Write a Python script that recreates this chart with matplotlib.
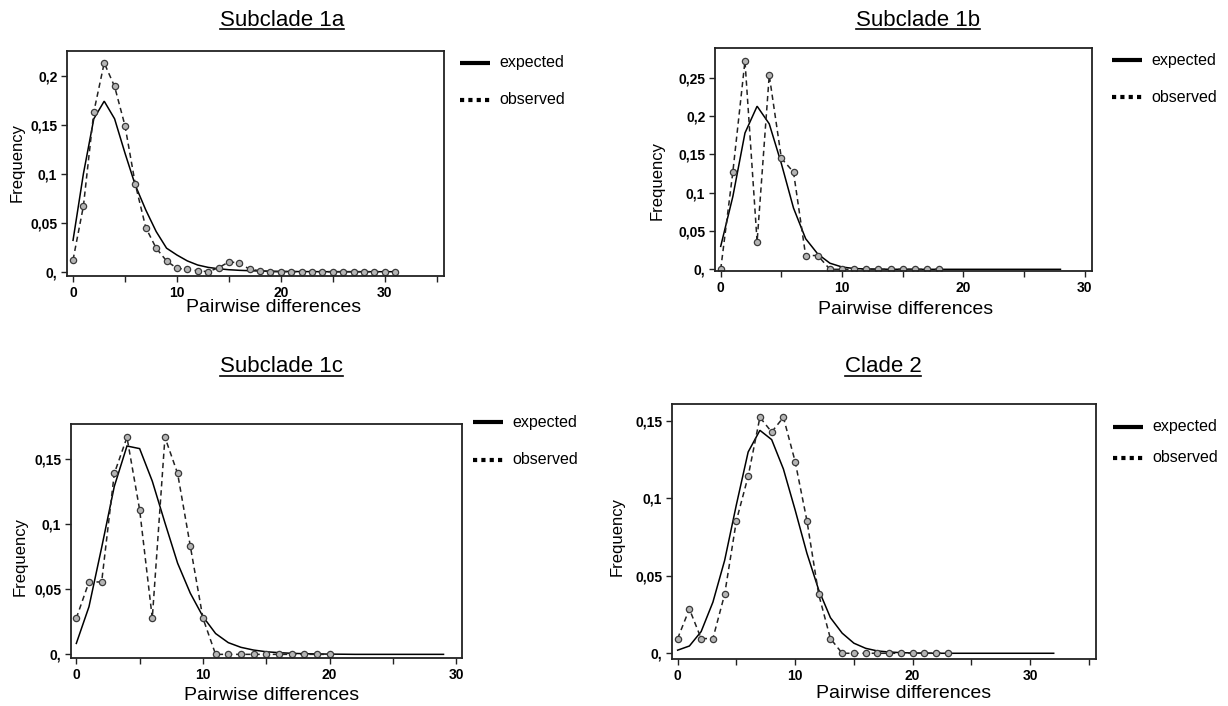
import matplotlib
matplotlib.use("Agg")
import matplotlib.pyplot as plt
from matplotlib.lines import Line2D

W, H = 1228, 706

titles = ["Subclade 1a", "Subclade 1b", "Subclade 1c", "Clade 2"]
x_label = "Pairwise differences"
y_label = "Frequency"
legend_labels = ["expected", "observed"]

# Subclade 1a
obs_1a = [0.012, 0.067, 0.163, 0.213, 0.189, 0.149, 0.089, 0.045, 0.024, 0.011,
          0.0034, 0.0024, 0.001, 0.0, 0.004, 0.010, 0.009, 0.0024, 0.001, 0.0,
          0.0, 0.0, 0.0, 0.0, 0.0, 0.0, 0.0, 0.0, 0.0, 0.0, 0.0, 0.0]
exp_1a = [0.032, 0.100, 0.156, 0.174, 0.156, 0.121, 0.088, 0.063, 0.041, 0.024,
          0.017, 0.011, 0.0068, 0.0044, 0.003, 0.002, 0.0014, 0.001, 0.0007, 0.0005,
          0.0003, 0.0002, 0.0001, 0.0001, 0.0, 0.0, 0.0, 0.0, 0.0, 0.0, 0.0, 0.0]
# Subclade 1b
obs_1b = [0.0, 0.127, 0.272, 0.036, 0.2535, 0.145, 0.127, 0.018, 0.018, 0.0,
          0.0, 0.0, 0.0, 0.0, 0.0, 0.0, 0.0, 0.0, 0.0]
exp_1b = [0.030, 0.095, 0.178, 0.213, 0.190, 0.138, 0.080, 0.040, 0.020, 0.008,
          0.003, 0.001, 0.0005, 0.0002, 0.0001, 0.0, 0.0, 0.0, 0.0, 0.0,
          0.0, 0.0, 0.0, 0.0, 0.0, 0.0, 0.0, 0.0, 0.0]
# Subclade 1c
obs_1c = [0.0278, 0.0556, 0.0556, 0.1389, 0.1667, 0.1111, 0.0278, 0.1667, 0.1389, 0.0833,
          0.0278, 0.0, 0.0, 0.0, 0.0, 0.0, 0.0, 0.0, 0.0, 0.0, 0.0]
exp_1c = [0.0084, 0.0366, 0.082, 0.129, 0.160, 0.158, 0.133, 0.101, 0.070, 0.047,
          0.029, 0.016, 0.009, 0.0054, 0.0033, 0.002, 0.0013, 0.0008, 0.0005, 0.0003,
          0.0002, 0.0001, 0.0, 0.0, 0.0, 0.0, 0.0, 0.0, 0.0, 0.0]
# Clade 2
obs_2 = [0.0095, 0.0286, 0.0095, 0.0095, 0.0381, 0.0857, 0.1143, 0.1524, 0.1429, 0.1524,
         0.1238, 0.0857, 0.0381, 0.0095, 0.0, 0.0, 0.0, 0.0, 0.0, 0.0, 0.0, 0.0, 0.0, 0.0]
exp_2 = [0.002, 0.0047, 0.014, 0.033, 0.060, 0.096, 0.130, 0.144, 0.138, 0.119,
         0.0925, 0.0646, 0.041, 0.023, 0.013, 0.0065, 0.0032, 0.0015, 0.0008, 0.0004,
         0.0002, 0.0001, 0.0, 0.0, 0.0, 0.0, 0.0, 0.0, 0.0, 0.0, 0.0, 0.0, 0.0]

observed = [obs_1a, obs_1b, obs_1c, obs_2]
expected = [exp_1a, exp_1b, exp_1c, exp_2]

yticks_list = [[0, 0.05, 0.1, 0.15, 0.2],
               [0, 0.05, 0.1, 0.15, 0.2, 0.25],
               [0, 0.05, 0.1, 0.15],
               [0, 0.05, 0.1, 0.15]]
xticks_major = [0, 10, 20, 30]
xticks_minor = [5, 15, 25, 35]


def ylab(v):
    if v == 0:
        return "0,"
    return ("%g" % v).replace(".", ",")


# layout (pixels)
layout = [
    dict(box=(67, 51, 444, 276), xlim=(-0.58, 35.7), ylim=(-0.0044, 0.2252),
         title=(282, 20), leg=(460, 63, 100), xl=(274, 307), yl=(17, 162)),
    dict(box=(715, 48, 1092, 271), xlim=(-0.47, 30.6), ylim=(-0.0022, 0.289),
         title=(918, 20), leg=(1112, 60, 97), xl=(906, 310), yl=(657, 180)),
    dict(box=(71, 424, 462, 658), xlim=(-0.42, 30.46), ylim=(-0.0028, 0.1769),
         title=(281, 367), leg=(473, 422, 460), xl=(272, 695), yl=(20, 557)),
    dict(box=(672, 404, 1096, 659), xlim=(-0.48, 35.6), ylim=(-0.0037, 0.161),
         title=(883, 367), leg=(1113, 427, 458), xl=(904, 693), yl=(617, 537)),
]

fig = plt.figure(figsize=(W / 100, H / 100), dpi=100)
fig.patch.set_facecolor("white")

FONT = ["Liberation Sans", "DejaVu Sans"]
TICKFONT = ["Liberation Sans Narrow", "Liberation Sans", "DejaVu Sans"]
title_texts = []

for i, L in enumerate(layout):
    l, t, r, b = L["box"]
    ax = fig.add_axes([l / W, 1 - b / H, (r - l) / W, (b - t) / H])
    xs_e = list(range(len(expected[i])))
    xs_o = list(range(len(observed[i])))
    ax.plot(xs_e, expected[i], color="black", lw=1.1, solid_joinstyle="miter")
    ax.plot(xs_o, observed[i], color="#222222", lw=1.1, linestyle=(0, (3.5, 2.5)),
            marker="o", markersize=4.5, markerfacecolor="#b5b5b5",
            markeredgecolor="#3a3a3a", markeredgewidth=0.9)
    ax.set_xlim(*L["xlim"])
    ax.set_ylim(*L["ylim"])
    ax.set_xticks(xticks_major)
    ax.set_xticks([m for m in xticks_minor if m <= L["xlim"][1]], minor=True)
    ax.set_xticklabels([str(v) for v in xticks_major])
    ax.set_yticks(yticks_list[i])
    ax.set_yticklabels([ylab(v) for v in yticks_list[i]])
    ax.tick_params(axis="both", which="both", direction="out", length=4, width=1,
                   color="#222222")
    ax.tick_params(axis="both", which="major", labelsize=10, pad=3)
    for lab in ax.get_xticklabels() + ax.get_yticklabels():
        lab.set_fontfamily(TICKFONT)
        lab.set_fontweight("bold")
    for s in ax.spines.values():
        s.set_linewidth(1.3)
        s.set_color("#222222")

    tx, ty = L["title"]
    tt = fig.text(tx / W, 1 - ty / H, titles[i], ha="center", va="center",
                  fontsize=16, family=FONT)
    title_texts.append(tt)

    xlx, xly = L["xl"]
    fig.text(xlx / W, 1 - xly / H, x_label, ha="center", va="center",
             fontsize=14, family=FONT)
    ylx, yly = L["yl"]
    fig.text(ylx / W, 1 - yly / H, y_label, ha="center", va="center",
             rotation=90, fontsize=12, family=FONT)

    lx, ly1, ly2 = L["leg"]
    fig.add_artist(Line2D([lx / W, (lx + 30) / W], [1 - ly1 / H, 1 - ly1 / H],
                          color="black", lw=3, solid_capstyle="butt"))
    fig.add_artist(Line2D([lx / W, (lx + 30) / W], [1 - ly2 / H, 1 - ly2 / H],
                          color="black", lw=3, linestyle=(0, (1, 1)),
                          dash_capstyle="butt"))
    fig.text((lx + 39) / W, 1 - ly1 / H, legend_labels[0], ha="left", va="center",
             fontsize=11.5, family=FONT)
    fig.text((lx + 39) / W, 1 - ly2 / H, legend_labels[1], ha="left", va="center",
             fontsize=11.5, family=FONT)

# underline titles
fig.canvas.draw()
renderer = fig.canvas.get_renderer()
for tt in title_texts:
    bb = tt.get_window_extent(renderer)
    y = (bb.y0 + 1.5) / H
    fig.add_artist(Line2D([bb.x0 / W, bb.x1 / W], [y, y], color="black", lw=1.2))

fig.savefig("out.png", dpi=100, facecolor="white")
